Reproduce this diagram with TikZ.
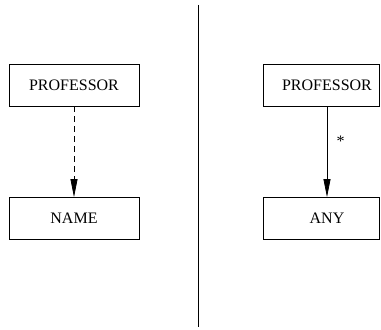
\documentclass[tikz,border=0pt]{standalone}
\usepackage{fontspec}
\setmainfont{Liberation Serif}
\usetikzlibrary{arrows.meta}
\begin{document}
\begin{tikzpicture}[x=1pt, y=1pt,
    box/.style = {draw, line width=0.8pt, rectangle, inner sep=0pt, minimum width=130pt, minimum height=42pt, font=\fontsize{16}{18}\selectfont},
    link/.style = {line width=0.8pt, -{Triangle[length=18pt, width=7pt]}}]
    \useasboundingbox (0,0) rectangle (381,330);
    % Nodes
    \node[box] (P1) at (74,245) {PROFESSOR};
    \node[box] (N1) at (74,111.5) {NAME};
    \node[box, minimum width=116pt] (P2) at (321,245) {\hspace*{12pt}PROFESSOR};
    \node[box, minimum width=116pt] (A2) at (321,111.5) {\hspace*{12pt}ANY};
    \coordinate (T) at (198,325);
    \coordinate (B) at (198,3);

    \draw[line width=0.8pt] (T) to (B);
    \draw[link, dash pattern=on 6pt off 4pt] (P1) to (N1);
    \draw[link] (P2.south -| 327,0) to node[right=6pt, yshift=10pt, font=\fontsize{16}{18}\selectfont] {*} (A2.north -| 327,0);
\end{tikzpicture}
\end{document}
